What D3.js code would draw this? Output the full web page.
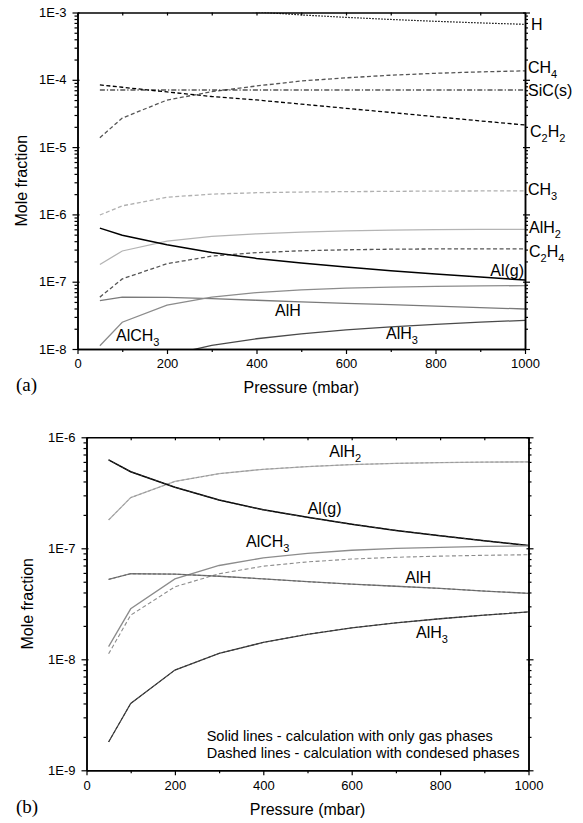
<!DOCTYPE html>
<html>
<head>
<meta charset="utf-8">
<script src="https://cdn.jsdelivr.net/npm/d3@7"></script>
<style>
  html, body { margin: 0; padding: 0; background: #fff; }
  svg { display: block; font-family: "Liberation Sans", Arial, sans-serif; }
  .tick text { font-family: "Liberation Sans", Arial, sans-serif; }
</style>
</head>
<body>
<svg id="chart" width="583" height="823"></svg>
<script>
// Pressure grid (mbar)
const pressure = [50, 100, 200, 300, 400, 500, 600, 700, 800, 900, 1000];

// Equilibrium mole fractions
const hFrac     = [2.7e-3, 1.95e-3, 1.41e-3, 1.17e-3, 1.02e-3, 9.2e-4, 8.47e-4, 7.88e-4, 7.4e-4, 7.0e-4, 6.67e-4];
const ch4       = [1.38e-5, 2.7e-5, 5.0e-5, 6.65e-5, 8.1e-5, 9.6e-5, 1.07e-4, 1.17e-4, 1.25e-4, 1.31e-4, 1.36e-4];
const sicS      = [7.05e-5, 7.05e-5, 7.05e-5, 7.05e-5, 7.05e-5, 7.05e-5, 7.05e-5, 7.05e-5, 7.05e-5, 7.05e-5, 7.05e-5];
const c2h2      = [8.4e-5, 7.75e-5, 6.6e-5, 5.65e-5, 5.02e-5, 4.35e-5, 3.77e-5, 3.27e-5, 2.83e-5, 2.45e-5, 2.13e-5];
const ch3       = [9.8e-7, 1.34e-6, 1.8e-6, 2.0e-6, 2.1e-6, 2.15e-6, 2.18e-6, 2.2e-6, 2.22e-6, 2.23e-6, 2.23e-6];
const alh2      = [1.8e-7, 2.86e-7, 4.0e-7, 4.7e-7, 5.15e-7, 5.45e-7, 5.68e-7, 5.82e-7, 5.92e-7, 5.98e-7, 6.0e-7];
const c2h4      = [5.9e-8, 1.1e-7, 1.85e-7, 2.4e-7, 2.7e-7, 2.88e-7, 2.98e-7, 3.04e-7, 3.07e-7, 3.08e-7, 3.08e-7];
const alg       = [6.25e-7, 4.9e-7, 3.55e-7, 2.72e-7, 2.22e-7, 1.9e-7, 1.65e-7, 1.45e-7, 1.3e-7, 1.17e-7, 1.06e-7];
const alh       = [5.25e-8, 5.9e-8, 5.85e-8, 5.6e-8, 5.3e-8, 5.0e-8, 4.75e-8, 4.55e-8, 4.35e-8, 4.12e-8, 3.93e-8];
const alh3      = [1.8e-9, 4.0e-9, 8.0e-9, 1.13e-8, 1.42e-8, 1.68e-8, 1.92e-8, 2.13e-8, 2.32e-8, 2.5e-8, 2.67e-8];
const alch3Gas  = [1.3e-8, 2.85e-8, 5.3e-8, 7.0e-8, 8.2e-8, 9.0e-8, 9.6e-8, 1.0e-7, 1.02e-7, 1.04e-7, 1.05e-7];
const alch3Cond = [1.12e-8, 2.5e-8, 4.5e-8, 5.9e-8, 6.9e-8, 7.55e-8, 8.0e-8, 8.3e-8, 8.5e-8, 8.65e-8, 8.75e-8];

// Axis ticks
const xMajor = [0, 200, 400, 600, 800, 1000];
const xMinor = [100, 300, 500, 700, 900];
const yMajorA = [1e-8, 1e-7, 1e-6, 1e-5, 1e-4, 1e-3];
const yMajorB = [1e-9, 1e-8, 1e-7, 1e-6];
const fmtExp = v => "1E" + Math.round(Math.log10(v));

const svg = d3.select("#chart");
const SANS = "'Liberation Sans', Arial, sans-serif";
const SERIF = "'Liberation Serif', 'Times New Roman', serif";

function minorTicks(majors) {
  const out = [];
  for (let i = 0; i < majors.length - 1; i++)
    for (let k = 2; k <= 9; k++) out.push(majors[i] * k);
  return out;
}

// Text with chemical subscripts: parts = [["CH"], ["4", true]]
function chemLabel(g, x, y, parts, opts = {}) {
  const t = g.append("text")
    .attr("x", x).attr("y", y)
    .attr("font-family", SANS)
    .attr("font-size", 16)
    .attr("fill", "#000")
    .attr("text-anchor", opts.anchor || "start");
  let sub = false;
  parts.forEach(([s, isSub]) => {
    const ts = t.append("tspan").text(s);
    if (isSub && !sub) { ts.attr("dy", 5).attr("font-size", 11); sub = true; }
    else if (!isSub && sub) { ts.attr("dy", -5); sub = false; }
    else if (isSub) ts.attr("font-size", 11);
  });
  return t;
}

function drawPanel(cfg) {
  const { left, right, top, bottom, yDomain, yMajor, id } = cfg;
  const x = d3.scaleLinear().domain([0, 1000]).range([left, right]);
  const y = d3.scaleLog().domain(yDomain).range([bottom, top]);
  const yMinor = minorTicks(yMajor);

  svg.append("clipPath").attr("id", id)
    .append("rect").attr("x", left).attr("y", top)
    .attr("width", right - left).attr("height", bottom - top);

  const lines = svg.append("g").attr("clip-path", `url(#${id})`);
  const line = d3.line()
    .x((d, i) => x(pressure[i]))
    .y(d => y(d));

  cfg.series.forEach(s => {
    lines.append("path")
      .datum(s.values)
      .attr("d", line)
      .attr("fill", "none")
      .attr("stroke", s.color)
      .attr("stroke-width", s.width || 1.3)
      .attr("stroke-dasharray", s.dash || null);
  });

  const axisStyle = g => {
    g.select(".domain").attr("stroke", "#000").attr("stroke-width", 1.5);
    g.selectAll(".tick line").attr("stroke", "#000").attr("stroke-width", 1.2);
    g.selectAll(".tick text").attr("font-size", 13).attr("fill", "#000").attr("font-family", SANS);
  };

  // bottom axis
  svg.append("g").attr("transform", `translate(0,${bottom})`)
    .call(d3.axisBottom(x).tickValues(xMinor).tickSize(3).tickFormat("").tickSizeOuter(0))
    .call(axisStyle);
  svg.append("g").attr("transform", `translate(0,${bottom})`)
    .call(d3.axisBottom(x).tickValues(xMajor).tickSize(5).tickPadding(5).tickSizeOuter(0).tickFormat(d3.format("d")))
    .call(axisStyle);

  // top axis (ticks pointing inward)
  svg.append("g").attr("transform", `translate(0,${top})`)
    .call(d3.axisTop(x).tickValues(xMajor.concat(xMinor)).tickSize(-3).tickFormat("").tickSizeOuter(0))
    .call(axisStyle);

  // left axis
  svg.append("g").attr("transform", `translate(${left},0)`)
    .call(d3.axisLeft(y).tickValues(yMinor).tickSize(3).tickFormat("").tickSizeOuter(0))
    .call(axisStyle);
  svg.append("g").attr("transform", `translate(${left},0)`)
    .call(d3.axisLeft(y).tickValues(yMajor).tickSize(5).tickPadding(6).tickSizeOuter(0).tickFormat(fmtExp))
    .call(axisStyle)
    .call(g => g.selectAll(".tick line").attr("x1", 2));

  // right axis
  svg.append("g").attr("transform", `translate(${right},0)`)
    .call(d3.axisRight(y).tickValues(yMinor).tickSize(3).tickFormat("").tickSizeOuter(0))
    .call(axisStyle);
  svg.append("g").attr("transform", `translate(${right},0)`)
    .call(d3.axisRight(y).tickValues(yMajor).tickSize(5).tickFormat("").tickSizeOuter(0))
    .call(axisStyle)
    .call(g => g.selectAll(".tick line").attr("x1", -2));

  // axis titles
  svg.append("text")
    .attr("x", (left + right) / 2).attr("y", cfg.xTitleY)
    .attr("text-anchor", "middle")
    .attr("font-family", SANS).attr("font-size", 16)
    .text("Pressure (mbar)");
  svg.append("text")
    .attr("transform", `translate(${cfg.yTitleX},${(top + bottom) / 2}) rotate(-90)`)
    .attr("text-anchor", "middle")
    .attr("font-family", SANS).attr("font-size", 16)
    .text("Mole fraction");
  svg.append("text")
    .attr("x", 16).attr("y", cfg.tagY)
    .attr("font-family", SERIF).attr("font-size", 19)
    .text(cfg.tag);

  return { x, y };
}

// Panel (a): full composition, with condensed phases
const pa = drawPanel({
  id: "clipA", left: 77.5, right: 525, top: 12.5, bottom: 349,
  yDomain: [1e-8, 1e-3], yMajor: yMajorA,
  xTitleY: 393, yTitleX: 27, tag: "(a)", tagY: 391,
  series: [
    { values: hFrac,     color: "#000", dash: "1.5,1.5", width: 1.2 },
    { values: ch4,       color: "#555", dash: "4,2.5" },
    { values: sicS,      color: "#000", dash: "5,2,1.2,2", width: 1.2 },
    { values: c2h2,      color: "#000", dash: "4,2.5" },
    { values: ch3,       color: "#b0b0b0", dash: "4,2.5" },
    { values: alh2,      color: "#b4b4b4" },
    { values: c2h4,      color: "#555", dash: "4,2.5" },
    { values: alg,       color: "#000", width: 1.5 },
    { values: alh,       color: "#7a7a7a" },
    { values: alch3Cond, color: "#8c8c8c" },
    { values: alh3,      color: "#4a4a4a" }
  ]
});

const gA = svg.append("g");
chemLabel(gA, 531, 30, [["H"]]);
chemLabel(gA, 528, 72.5, [["CH"], ["4", true]]);
chemLabel(gA, 528, 96, [["SiC(s)"]]);
chemLabel(gA, 530, 136.5, [["C"], ["2", true], ["H"], ["2", true]]);
chemLabel(gA, 528, 195, [["CH"], ["3", true]]);
chemLabel(gA, 529, 232.5, [["AlH"], ["2", true]]);
chemLabel(gA, 529, 257, [["C"], ["2", true], ["H"], ["4", true]]);
chemLabel(gA, 524, 276, [["Al(g)"]], { anchor: "end" });
chemLabel(gA, 275, 316, [["AlH"]]);
chemLabel(gA, 116, 341, [["AlCH"], ["3", true]]);
chemLabel(gA, 386, 339, [["AlH"], ["3", true]]);

// Panel (b): aluminium species, gas-only vs. condensed-phase calculation
const pb = drawPanel({
  id: "clipB", left: 86.5, right: 528.5, top: 437.3, bottom: 770.3,
  yDomain: [1e-9, 1e-6], yMajor: yMajorB,
  xTitleY: 815, yTitleX: 32.5, tag: "(b)", tagY: 812.5,
  series: [
    { values: alh2,      color: "#b4b4b4" },
    { values: alh2,      color: "#9a9a9a", dash: "3,2", width: 1 },
    { values: alg,       color: "#000", width: 1.5 },
    { values: alg,       color: "#333", dash: "3,2", width: 1 },
    { values: alch3Gas,  color: "#8c8c8c" },
    { values: alch3Cond, color: "#8c8c8c", dash: "4,2.5", width: 1.1 },
    { values: alh,       color: "#7a7a7a" },
    { values: alh,       color: "#666", dash: "3,2", width: 1 },
    { values: alh3,      color: "#4a4a4a" },
    { values: alh3,      color: "#333", dash: "3,2", width: 1 }
  ]
});

const gB = svg.append("g");
chemLabel(gB, 329.3, 457.3, [["AlH"], ["2", true]]);
chemLabel(gB, 307.7, 514, [["Al(g)"]]);
chemLabel(gB, 246, 547.3, [["AlCH"], ["3", true]]);
chemLabel(gB, 405.3, 582.7, [["AlH"]]);
chemLabel(gB, 416, 638.3, [["AlH"], ["3", true]]);

gB.append("text").attr("x", 206.7).attr("y", 740.5)
  .attr("font-family", SANS).attr("font-size", 14.5)
  .text("Solid lines - calculation with only gas phases");
gB.append("text").attr("x", 206.7).attr("y", 757.8)
  .attr("font-family", SANS).attr("font-size", 14.5)
  .text("Dashed lines - calculation with condesed phases");
</script>
</body>
</html>
